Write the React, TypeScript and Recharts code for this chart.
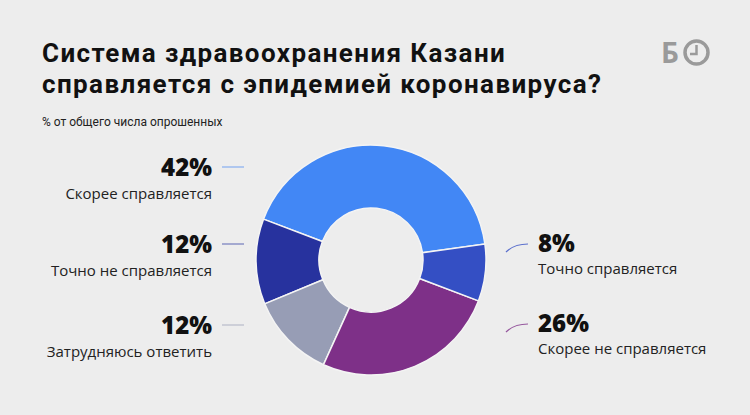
import { PieChart, Pie, Cell } from "recharts";

const categories = ["Скорее справляется", "Точно не справляется", "Затрудняюсь ответить", "Скорее не справляется", "Точно справляется"];
const shares = [42, 12, 12, 26, 8];
const colors = ["#4287f5", "#27329e", "#979db5", "#7e3088", "#344fc4"];

// label anchor layout (left column right-aligned, right column left-aligned)
const labelPos = [
  { side: "left", y: 176 },
  { side: "left", y: 253 },
  { side: "left", y: 334 },
  { side: "right", y: 332 },
  { side: "right", y: 252 },
];

const data = categories.map((name, i) => ({ name, value: shares[i] }));

const numFont = "'Open Sans', sans-serif";

function renderLabel(props: any) {
  const i = props.index;
  const pos = labelPos[i];
  const c = colors[i];
  if (pos.side === "left") {
    const x = 212;
    return (
      <g key={"l" + i}>
        <line x1={222} x2={244} y1={pos.y - 9} y2={pos.y - 9} stroke={c} strokeOpacity={0.6} strokeWidth={1.2} />
        <text x={x} y={pos.y} textAnchor="end" fontFamily={numFont} fontWeight={800} fontSize={24} fill="#111">
          {shares[i]}%
        </text>
        <text x={x} y={pos.y + 23} textAnchor="end" fontFamily={numFont} fontSize={15} fill="#222">
          {categories[i]}
        </text>
      </g>
    );
  }
  const x = 538;
  return (
    <g key={"l" + i}>
      <path d={`M506 ${pos.y} Q514 ${pos.y - 8} 528 ${pos.y - 8}`} fill="none" stroke={c} strokeOpacity={0.8} strokeWidth={1.2} />
      <text x={x} y={pos.y} fontFamily={numFont} fontWeight={800} fontSize={24} fill="#111">
        {shares[i]}%
      </text>
      <text x={x} y={pos.y + 22} fontFamily={numFont} fontSize={15} fill="#222">
        {categories[i]}
      </text>
    </g>
  );
}

export default function App() {
  return (
    <div style={{ position: "relative", width: 750, height: 415, background: "#ededed", overflow: "hidden" }}>
      <style>{"body{margin:0}"}</style>
      <svg style={{ position: "absolute", left: 0, top: 0 }} width={750} height={135}>
        <g fontFamily="Roboto, sans-serif" fontWeight={700} fontSize={26} fill="#111" letterSpacing={1.4}>
          <text x={42} y={62}>Система здравоохранения Казани</text>
          <text x={42} y={93}>справляется с эпидемией коронавируса?</text>
        </g>
        <text x={42} y={126} fontFamily="Roboto, sans-serif" fontSize={12} fill="#222">
          % от общего числа опрошенных
        </text>
        <text x={661} y={63} fontFamily="'Open Sans', sans-serif" fontWeight={700} fontSize={28} fill="#9a9a9a">
          Б
        </text>
        <circle cx={696.5} cy={52.5} r={11.5} fill="none" stroke="#9a9a9a" strokeWidth={3.5} />
        <polyline points="696.5,45 696.5,54 690,54" fill="none" stroke="#9a9a9a" strokeWidth={2.5} />
      </svg>
      <div style={{ position: "absolute", left: 0, top: 0 }}>
        <PieChart width={750} height={415} margin={{ top: 0, right: 0, bottom: 0, left: 0 }}>
          <Pie
            data={data}
            dataKey="value"
            nameKey="name"
            cx={371}
            cy={260}
            innerRadius={52}
            outerRadius={115}
            startAngle={8}
            endAngle={368}
            stroke="#f4f4f4"
            strokeWidth={1.5}
            label={renderLabel}
            labelLine={false}
            isAnimationActive={false}
          >
            {data.map((d, i) => (
              <Cell key={d.name} fill={colors[i]} />
            ))}
          </Pie>
        </PieChart>
      </div>
    </div>
  );
}
